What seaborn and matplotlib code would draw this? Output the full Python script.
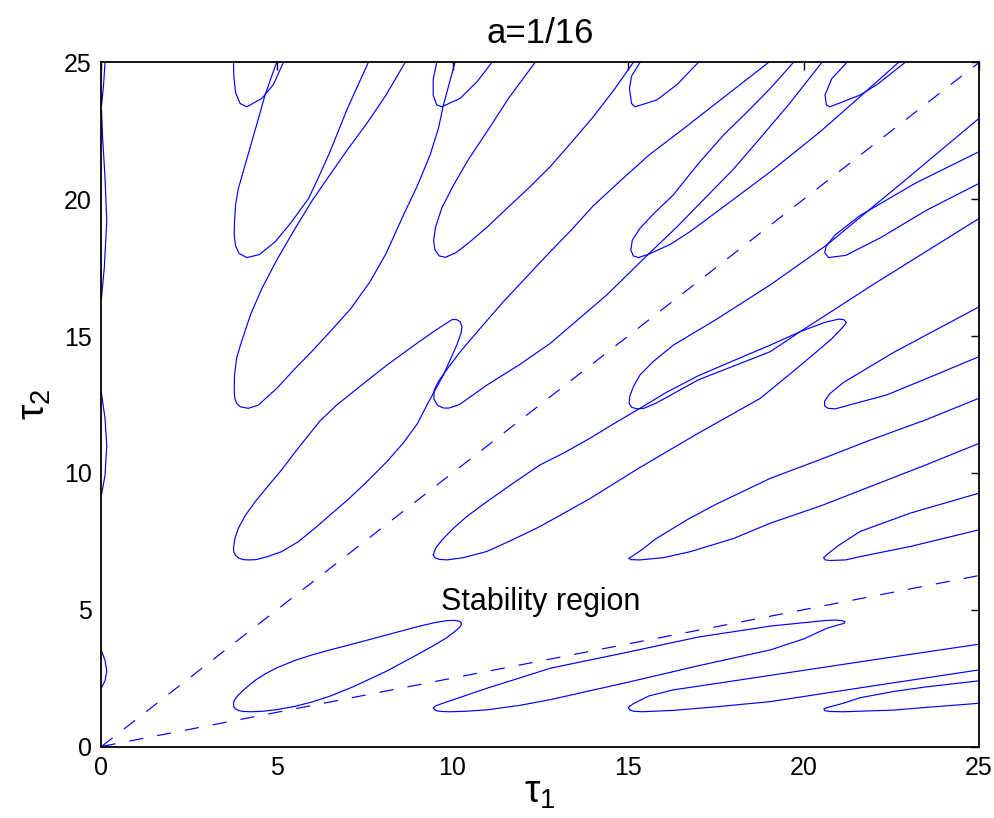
import matplotlib
matplotlib.use('Agg')
import matplotlib.pyplot as plt
import seaborn as sns
import pandas as pd

sns.set_theme(style='white')
plt.rcParams['font.family'] = ['Liberation Sans', 'DejaVu Sans']
plt.rcParams['mathtext.fontset'] = 'custom'
plt.rcParams['mathtext.rm'] = 'Liberation Sans'
plt.rcParams['mathtext.it'] = 'Liberation Sans'
plt.rcParams['mathtext.default'] = 'rm'
plt.rcParams['text.color'] = 'black'
plt.rcParams['axes.labelcolor'] = 'black'

# crossing curves, points (tau1, tau2)
loop_0_0 = [(3.76, 1.55), (3.77, 1.45), (3.82, 1.37), (3.92, 1.31), (4.05, 1.28), (4.28, 1.27),
            (4.6, 1.29), (5.0, 1.35), (5.52, 1.47), (6.0, 1.63), (6.51, 1.84), (7.2, 2.2),
            (8.13, 2.76), (9.0, 3.36), (9.45, 3.68), (9.84, 3.98), (10.1, 4.24), (10.22, 4.38),
            (10.26, 4.5), (10.2, 4.58), (10.05, 4.61), (9.84, 4.6), (9.5, 4.53), (9.0, 4.38),
            (8.13, 4.08), (7.2, 3.76), (6.51, 3.53), (6.0, 3.35), (5.52, 3.15), (5.0, 2.88),
            (4.7, 2.68), (4.4, 2.44), (4.15, 2.18), (3.95, 1.95), (3.84, 1.8), (3.78, 1.68),
            (3.76, 1.55)]
loop_1_0 = [(9.455, 1.42), (9.48, 1.35), (9.56, 1.3), (9.7, 1.28), (9.93, 1.27), (10.4, 1.29),
            (10.98, 1.34), (11.9, 1.5), (12.78, 1.71), (15.0, 2.35), (17.0, 2.95), (19.05, 3.53),
            (20.0, 3.93), (20.66, 4.32), (20.95, 4.43), (21.15, 4.5), (21.18, 4.56), (21.1, 4.6),
            (20.9, 4.62), (20.66, 4.61), (19.05, 4.4), (17.0, 4.0), (15.0, 3.45), (12.78, 2.86),
            (11.9, 2.5), (10.98, 2.13), (10.5, 1.92), (10.0, 1.7), (9.7, 1.57), (9.53, 1.49),
            (9.455, 1.42)]
loop_2_0 = [(25.0, 3.74), (22.0, 3.17), (19.05, 2.6), (17.5, 2.3), (16.29, 2.07), (15.6, 1.85),
            (15.2, 1.6), (15.05, 1.48), (15.01, 1.42), (15.05, 1.34), (15.15, 1.29), (15.4, 1.27),
            (16.29, 1.32), (17.5, 1.45), (19.05, 1.64), (22.0, 2.22), (25.0, 2.8)]
loop_3_0 = [(25.0, 2.40), (23.5, 2.18), (22.56, 2.01), (21.6, 1.78), (21.13, 1.58), (20.75, 1.45),
            (20.58, 1.38), (20.6, 1.31), (20.75, 1.28), (21.13, 1.27), (22.56, 1.33), (23.5, 1.43),
            (25.0, 1.58)]
loop_0_1 = [(3.76, 7.25), (3.77, 7.1), (3.82, 6.98), (3.92, 6.88), (4.05, 6.83), (4.18, 6.82),
            (4.4, 6.83), (4.7, 6.93), (5.13, 7.12), (5.6, 7.48), (6.1, 8.0), (6.51, 8.46),
            (7.0, 9.0), (7.5, 9.6), (8.13, 10.41), (8.6, 11.1), (9.0, 11.8), (9.27, 12.48),
            (9.74, 13.58), (10.12, 14.67), (10.24, 15.1), (10.27, 15.35), (10.22, 15.52),
            (10.12, 15.6), (10.0, 15.61), (9.8, 15.45), (9.5, 15.2), (9.0, 14.75), (8.13, 13.94),
            (7.4, 13.2), (6.7, 12.48), (6.225, 11.9), (5.6, 10.9), (5.13, 10.11), (4.7, 9.45),
            (4.38, 8.95), (4.1, 8.45), (3.9, 7.98), (3.8, 7.6), (3.76, 7.25)]
loop_1_1 = [(9.45, 7.0), (9.5, 6.9), (9.62, 6.84), (9.84, 6.82), (10.3, 6.9), (10.98, 7.13),
            (11.7, 7.55), (12.49, 8.04), (13.9, 9.05), (15.34, 10.2), (17.0, 11.45),
            (18.76, 12.72), (19.6, 13.6), (20.3, 14.35), (20.8, 14.9), (21.13, 15.34),
            (21.22, 15.5), (21.15, 15.6), (21.0, 15.62), (20.6, 15.5), (19.9, 15.16),
            (19.05, 14.67), (18.0, 14.1), (17.0, 13.55), (16.1, 12.95), (15.34, 12.36),
            (14.6, 11.8), (13.92, 11.27), (13.2, 10.75), (12.49, 10.29), (11.7, 9.6),
            (10.98, 8.95), (10.4, 8.4), (10.03, 7.98), (9.7, 7.55), (9.52, 7.25), (9.45, 7.0)]
loop_2_1 = [(25.0, 12.73), (23.5, 11.95), (21.9, 11.2), (20.5, 10.5), (19.05, 9.8), (17.5, 8.85),
            (16.7, 8.3), (16.29, 7.98), (15.8, 7.6), (15.4, 7.2), (15.15, 6.98), (15.02, 6.88),
            (15.08, 6.83), (15.34, 6.82), (16.0, 6.9), (16.77, 7.12), (18.0, 7.6), (19.05, 8.16),
            (20.5, 8.8), (21.9, 9.5), (23.5, 10.3), (25.0, 11.08)]
loop_3_1 = [(25.0, 9.26), (23.04, 8.53), (21.61, 7.86), (21.0, 7.35), (20.7, 7.05), (20.57, 6.9),
            (20.62, 6.82), (20.75, 6.8), (21.2, 6.82), (21.61, 6.94), (23.04, 7.31), (25.0, 7.92)]
loop_0_2 = [(8.65, 25.0), (8.1, 23.8), (7.6, 22.85), (7.0, 21.8), (6.51, 20.9), (6.0, 19.95),
            (5.52, 18.94), (5.0, 17.8), (4.57, 16.74), (4.25, 15.8), (3.99, 14.8), (3.85, 14.2),
            (3.79, 13.58), (3.78, 13.0), (3.8, 12.72), (3.85, 12.55), (3.95, 12.42), (4.18, 12.36),
            (4.47, 12.48), (5.0, 13.1), (5.52, 13.82), (6.0, 14.45), (6.51, 15.16), (7.1, 16.0),
            (7.65, 16.99), (8.1, 18.0), (8.6, 19.42), (9.0, 20.5), (9.36, 21.62), (9.6, 22.6),
            (9.74, 23.44), (9.9, 24.2), (10.07, 25.0)]
loop_1_2 = [(19.0, 25.0), (18.2, 24.2), (17.5, 23.5), (16.5, 22.5), (15.6, 21.62), (14.8, 20.7),
            (14.0, 19.75), (13.4, 18.9), (12.78, 18.08), (12.1, 17.15), (11.45, 16.26),
            (10.8, 15.3), (10.22, 14.43), (9.85, 13.8), (9.6, 13.35), (9.47, 13.0), (9.47, 12.7),
            (9.58, 12.46), (9.75, 12.37), (9.9, 12.37), (10.2, 12.5), (10.98, 13.21),
            (11.9, 13.95), (12.78, 14.73), (14.39, 16.5), (15.6, 18.02), (16.4, 19.0),
            (17.2, 20.05), (18.0, 21.1), (18.76, 22.23), (19.6, 23.5), (20.52, 25.0)]
loop_2_2 = [(25.0, 22.96), (22.8, 20.6), (20.66, 18.33), (19.05, 16.87), (17.5, 15.6),
            (16.29, 14.67), (15.7, 14.05), (15.34, 13.58), (15.15, 13.15), (15.05, 12.8),
            (15.03, 12.55), (15.1, 12.4), (15.25, 12.34), (15.45, 12.36), (15.8, 12.55),
            (17.0, 13.4), (19.05, 14.43), (19.9, 15.16), (22.0, 16.9), (25.0, 19.3)]
loop_3_2 = [(25.0, 16.07), (22.56, 14.4), (21.13, 13.3), (20.75, 12.9), (20.6, 12.62),
            (20.6, 12.45), (20.7, 12.36), (20.9, 12.34), (21.5, 12.55), (22.37, 12.85),
            (23.6, 13.5), (25.0, 14.25)]
loop_0_3 = [(4.99, 25.0), (4.82, 24.4), (4.66, 23.81), (4.47, 22.95), (4.28, 22.1), (4.08, 21.2),
            (3.9, 20.4), (3.82, 19.8), (3.79, 19.18), (3.78, 18.7), (3.82, 18.3), (3.92, 18.02),
            (4.14, 17.87), (4.5, 17.98), (4.95, 18.45), (5.4, 19.15), (5.9, 20.03), (6.2, 20.85),
            (6.51, 21.74), (7.0, 23.3), (7.6, 25.0)]
loop_1_3 = [(12.35, 25.0), (11.6, 23.7), (10.98, 22.47), (10.45, 21.45), (10.03, 20.52),
            (9.7, 19.7), (9.52, 19.0), (9.46, 18.5), (9.5, 18.15), (9.62, 17.93), (9.8, 17.88),
            (10.1, 18.05), (10.5, 18.45), (11.0, 19.0), (11.55, 19.67), (12.2, 20.45),
            (12.78, 21.19), (13.4, 22.1), (14.0, 23.0), (14.6, 24.0), (15.15, 25.0)]
loop_2_3 = [(19.71, 25.0), (19.05, 24.05), (18.4, 23.2), (17.72, 22.35), (17.0, 21.3),
            (16.29, 20.16), (15.75, 19.5), (15.34, 18.94), (15.12, 18.5), (15.08, 18.15),
            (15.15, 17.93), (15.3, 17.87), (15.6, 18.0), (16.2, 18.35), (16.77, 18.82),
            (17.9, 19.9), (19.05, 21.0), (20.5, 22.5), (21.3, 23.4), (22.09, 24.3), (22.7, 25.0)]
loop_3_3 = [(25.0, 21.74), (23.2, 20.6), (21.6, 19.4), (20.9, 18.7), (20.65, 18.3),
            (20.6, 18.05), (20.71, 17.87), (21.2, 17.95), (22.2, 18.6), (23.5, 19.6),
            (25.0, 20.58)]
loop_0_4 = [(3.76, 25.0), (3.77, 24.5), (3.82, 23.9), (3.95, 23.5), (4.14, 23.38), (4.57, 23.69),
            (4.9, 24.2), (5.18, 25.0)]
loop_1_4 = [(9.55, 25.0), (9.45, 24.4), (9.45, 23.8), (9.55, 23.45), (9.69, 23.38),
            (10.22, 23.69), (10.7, 24.3), (11.12, 25.0)]
loop_2_4 = [(15.34, 25.0), (15.1, 24.5), (15.04, 24.05), (15.1, 23.5), (15.2, 23.38),
            (15.82, 23.63), (16.4, 24.2), (17.0, 25.0)]
loop_3_4 = [(21.23, 25.0), (20.8, 24.4), (20.61, 23.81), (20.65, 23.45), (20.75, 23.38),
            (21.61, 23.81), (22.1, 24.2), (22.89, 25.0)]
edge_1 = [(0.0, 2.15), (0.1, 2.4), (0.15, 2.75), (0.1, 3.15), (0.0, 3.5)]
edge_2 = [(0.0, 9.2), (0.1, 9.9), (0.15, 11.0), (0.1, 12.0), (0.0, 12.9)]
edge_3 = [(0.0, 16.4), (0.08, 17.5), (0.15, 19.2), (0.1, 20.8), (0.03, 22.3), (0.0, 23.3)]
edge_4 = [(0.0, 23.4), (0.06, 24.2), (0.1, 25.0)]

curves = [loop_0_0, loop_1_0, loop_2_0, loop_3_0, loop_0_1, loop_1_1, loop_2_1, loop_3_1,
          loop_0_2, loop_1_2, loop_2_2, loop_3_2, loop_0_3, loop_1_3, loop_2_3, loop_3_3,
          loop_0_4, loop_1_4, loop_2_4, loop_3_4, edge_1, edge_2, edge_3, edge_4]

# dashed rays from the origin
ray_t1 = [0, 25]
ray_steep = [0, 25]
ray_flat = [0, 6.25]

fig, ax = plt.subplots(figsize=(9.94, 8.18), dpi=100)
fig.subplots_adjust(left=0.1021, right=0.985, bottom=0.0874, top=0.9236)

for pts in curves:
    df = pd.DataFrame(pts, columns=['tau1', 'tau2'])
    sns.lineplot(data=df, x='tau1', y='tau2', sort=False, estimator=None,
                 color='blue', lw=0.85, ax=ax)

for ys in [ray_steep, ray_flat]:
    sns.lineplot(x=ray_t1, y=ys, color='blue', lw=0.85, ax=ax,
                 dashes=False, linestyle=(0, (12, 12)))

ax.text(9.67, 5.0, 'Stability region', fontsize=22, ha='left', va='baseline')

ax.set_xlim(0, 25)
ax.set_ylim(0, 25)
ax.set_xticks([0, 5, 10, 15, 20, 25])
ax.set_yticks([0, 5, 10, 15, 20, 25])
ax.tick_params(direction='in', length=6, width=1, top=True, right=True,
               labelsize=18, colors='black', pad=7)
for s in ax.spines.values():
    s.set_visible(True)
    s.set_color('black')
    s.set_linewidth(1.3)
ax.set_xlabel(r'$\tau_1$', fontsize=28, labelpad=-4)
ax.set_ylabel(r'$\tau_2$', fontsize=28, labelpad=8)
ax.set_title('a=1/16', fontsize=25, pad=14)

fig.savefig('out.png', dpi=100)
